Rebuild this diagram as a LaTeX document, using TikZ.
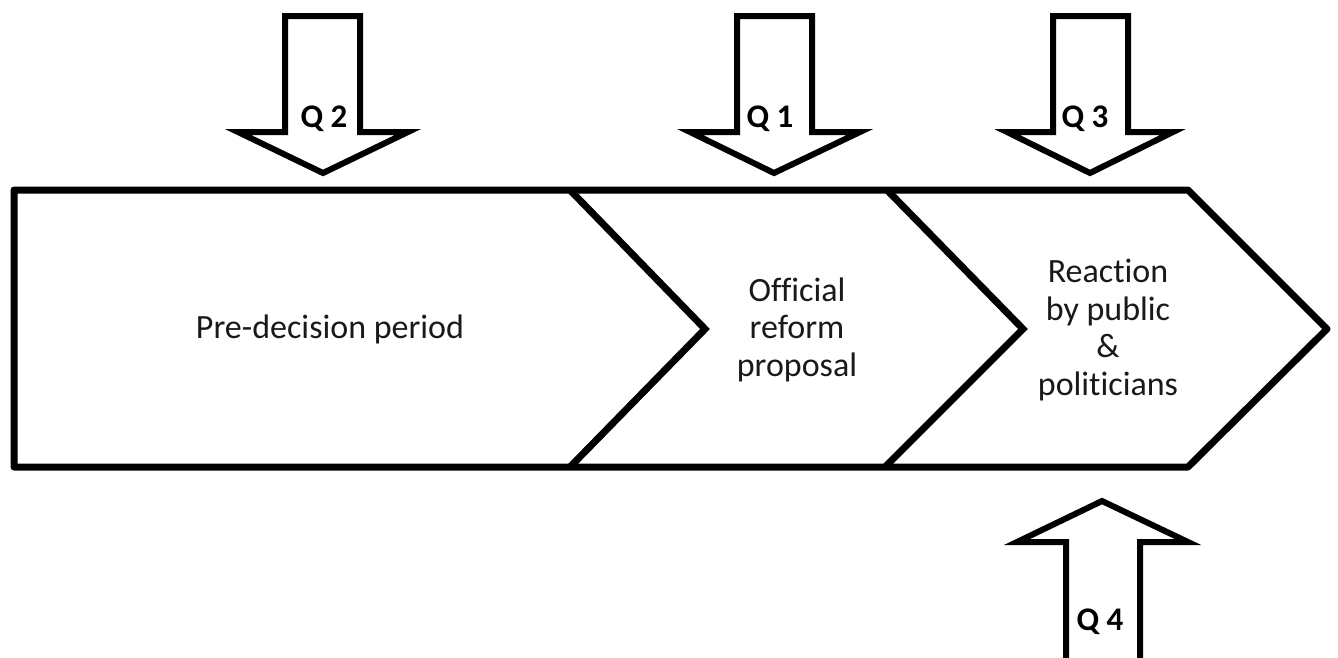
\documentclass[tikz,border=0pt]{standalone}
\usepackage{fontspec}
\setmainfont{Carlito}[Ligatures=NoCommon]
\begin{document}
\begin{tikzpicture}[x=1pt,y=-1pt,
  outline/.style={draw=black,line width=7pt,line join=miter,fill=white},
  divider/.style={draw=black,line width=7pt,line join=miter},
  qarrow/.style={draw=black,line width=6pt,line join=miter,fill=white},
  stagetext/.style={font=\fontsize{34}{37.5}\selectfont,align=center,text=black!90,inner sep=0pt,anchor=base},
  qlabel/.style={font=\fontsize{33}{36}\bfseries\selectfont,text=black,inner sep=0pt,anchor=base}]
\useasboundingbox (0,0) rectangle (1338,657);
\clip (0,0) rectangle (1338,657);
% main chevron band
\coordinate (tl) at (14,190);
\coordinate (tr) at (1188,190);
\coordinate (tip) at (1327,329);
\coordinate (br) at (1188,467);
\coordinate (bl) at (14,467);
\draw[outline,line join=round] (tl) -- (tr) -- (tip) -- (br) -- (bl) -- cycle;
\coordinate (a1) at (570,190);
\coordinate (a2) at (705,329);
\coordinate (a3) at (570,467);
\coordinate (b1) at (887,190);
\coordinate (b2) at (1023,329);
\coordinate (b3) at (885,467);
\draw[divider] (a1) -- (a2) -- (a3);
\draw[divider] (b1) -- (b2) -- (b3);
% stage texts (base = last line's baseline)
\node[stagetext] (pre) at (330,338) {Pre-decision period};
\node[stagetext] (off) at (797,376) {Official\\reform\\proposal};
\node[stagetext] (rea) at (1108,395) {Reaction\\by public\\\&\\politicians};
% Q2 arrow
\draw[qarrow] (285,16) -- (360,16) -- (360,132) -- (408,132) -- (323,173) -- (238,132) -- (285,132) -- cycle;
% Q1 arrow
\draw[qarrow] (737,16) -- (812,16) -- (812,132) -- (860,132) -- (774,173) -- (690,132) -- (737,132) -- cycle;
% Q3 arrow
\draw[qarrow] (1053,16) -- (1128,16) -- (1128,132) -- (1173,132) -- (1090,173) -- (1007,132) -- (1053,132) -- cycle;
% Q4 arrow
\draw[qarrow] (1066,670) -- (1066,542) -- (1017,542) -- (1102,501) -- (1188,542) -- (1140,542) -- (1140,670) -- cycle;
\node[qlabel] (q2) at (324,127) {Q 2};
\node[qlabel] (q1) at (770,127) {Q 1};
\node[qlabel] (q3) at (1085,127) {Q 3};
\node[qlabel] (q4) at (1100,630) {Q 4};
\end{tikzpicture}
\end{document}
